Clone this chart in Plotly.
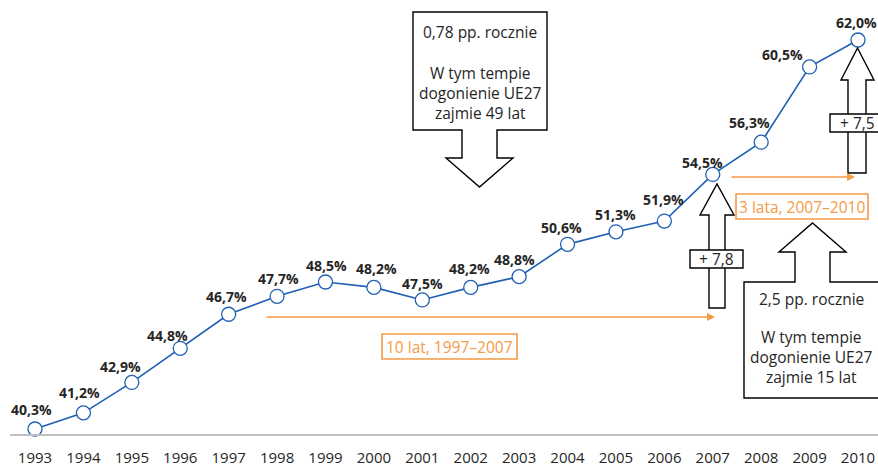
import plotly.graph_objects as go

# ---------------- data ----------------
years = list(range(1993, 2011))
values = [40.3, 41.2, 42.9, 44.8, 46.7, 47.7, 48.5, 48.2, 47.5, 48.2, 48.8,
          50.6, 51.3, 51.9, 54.5, 56.3, 60.5, 62.0]
value_labels = ["40,3%", "41,2%", "42,9%", "44,8%", "46,7%", "47,7%", "48,5%",
                "48,2%", "47,5%", "48,2%", "48,8%", "50,6%", "51,3%", "51,9%",
                "54,5%", "56,3%", "60,5%", "62,0%"]
tick_labels = [str(y) for y in years]

# label nudges (pixels) – styling only
label_dx = [-4, -4, -11, -13, -2, 1, 1, 3, 0, -1, -5, -6, 0, -1, -10, -12, -27, -2]
label_dy = [20, 20, 16, 13, 18, 18, 17, 19, 16, 19, 17, 17, 17, 22, 12, 20, 12, 18]

# ---------------- layout geometry ----------------
OFF = 0  # body margin removed via post_script
W, H = 878, 466
ML, MR, MT, MB = 10, 0, 0, 32
PW, PH = W - ML - MR, H - MT - MB
PX_PER_YEAR = 48.412
PX_PER_UNIT = 17.926
X0 = 1993 - 25 / PX_PER_YEAR
X1 = X0 + PW / PX_PER_YEAR
Y0 = 40.3 - 5 / PX_PER_UNIT
Y1 = Y0 + PH / PX_PER_UNIT


def X(px):
    return X0 + (px - (ML + OFF)) / PX_PER_YEAR


def Y(py):
    return Y1 - (py - (MT + OFF)) / PX_PER_UNIT


BLUE = "#1F5FB4"
ORANGE = "#F59A45"
DARK = "#262626"
FONT = "Open Sans"

fig = go.Figure()
fig.add_trace(go.Scatter(
    x=years, y=values, mode="lines+markers",
    line=dict(color=BLUE, width=1.6),
    marker=dict(size=14, color="white", line=dict(color=BLUE, width=1.3)),
    hoverinfo="skip", cliponaxis=False,
))

annotations = []
for yr, v, t, dx, dy in zip(years, values, value_labels, label_dx, label_dy):
    annotations.append(dict(x=yr, y=v, xref="x", yref="y", text=t, showarrow=False,
                            xshift=dx, yshift=dy, yanchor="middle",
                            font=dict(family=FONT, size=14, color=DARK, weight="bold")))

shapes = []


def poly(pts, color="black", fill="white", width=1.4):
    path = "M " + " L ".join(f"{X(a):.4f},{Y(b):.4f}" for a, b in pts) + " Z"
    shapes.append(dict(type="path", path=path, xref="x", yref="y",
                       line=dict(color=color, width=width), fillcolor=fill, layer="above"))


def rect(x0, y0, x1, y1, color="black", width=1.4):
    shapes.append(dict(type="rect", xref="x", yref="y", x0=X(x0), x1=X(x1), y0=Y(y0), y1=Y(y1),
                       line=dict(color=color, width=width), fillcolor="white", layer="above"))


def text(px, py, s, color=DARK, size=15.5):
    annotations.append(dict(x=X(px), y=Y(py), xref="x", yref="y", text=s, showarrow=False,
                            xanchor="center", yanchor="middle",
                            font=dict(family=FONT, size=size, color=color)))


# top callout (down arrow)
poly([(413, 12), (547, 12), (547, 130), (497, 130), (497, 158), (513, 158), (479.5, 187),
      (446, 158), (462, 158), (462, 130), (413, 130)])
text(480, 32, "0,78 pp. rocznie")
text(480, 93, "W tym tempie<br>dogonienie UE27<br>zajmie 49 lat")

# bottom-right callout (up arrow)
poly([(744, 282), (795, 282), (795, 252), (779, 252), (812.5, 223), (846, 252), (830, 252),
      (830, 282), (884, 282), (884, 398), (744, 398)])
text(811, 299, "2,5 pp. rocznie")
text(811, 357, "W tym tempie<br>dogonienie UE27<br>zajmie 15 lat")

# up arrow at 2007
poly([(709, 308), (709, 215), (700, 215), (717, 184), (734, 215), (725, 215), (725, 308)])
rect(690, 250, 743, 268)
text(716.5, 259, "+ 7,8")

# up arrow at 2010
poly([(848, 173), (848, 80), (841, 80), (857.5, 48), (874, 80), (866, 80), (866, 173)])
rect(830, 114, 884, 132)
text(857, 123, "+ 7,5")

# orange period arrows
for (xa, xb, yy) in [(265, 715, 317), (730, 855, 177)]:
    annotations.append(dict(x=X(xb), y=Y(yy), ax=X(xa), ay=Y(yy), xref="x", yref="y",
                            axref="x", ayref="y", text="", showarrow=True, arrowhead=2,
                            arrowsize=1, arrowwidth=1.6, arrowcolor=ORANGE))
rect(382, 334, 517, 359, color=ORANGE, width=1.6)
text(449.5, 347, "10 lat, 1997–2007", color=ORANGE)
rect(736, 194, 868, 219, color=ORANGE, width=1.6)
text(802, 207, "3 lata, 2007–2010", color=ORANGE)

fig.update_layout(
    width=W, height=H,
    margin=dict(l=ML, r=MR, t=MT, b=MB),
    paper_bgcolor="white", plot_bgcolor="white",
    showlegend=False,
    shapes=shapes, annotations=annotations,
    font=dict(family=FONT, color=DARK),
    xaxis=dict(range=[X0, X1], tickmode="array", tickvals=years, ticktext=tick_labels,
               showgrid=False, zeroline=False, showline=True, linecolor="#BFBFBF", linewidth=1.5,
               ticks="outside", ticklen=9, tickcolor="rgba(0,0,0,0)",
               tickfont=dict(family=FONT, size=15, color=DARK), fixedrange=True),
    yaxis=dict(range=[Y0, Y1], showgrid=False, zeroline=False, showticklabels=False,
               showline=False, fixedrange=True),
)

fig.write_html("out.html", config={"displayModeBar": False},
               post_script="document.body.style.margin='0';document.body.style.overflow='hidden';")
